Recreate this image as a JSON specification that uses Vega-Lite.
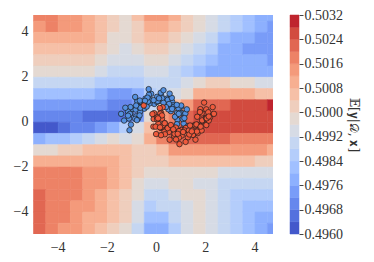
{
"$schema": "https://vega.github.io/schema/vega-lite/v6.json",
"background": "white",
"padding": {"left": 13, "top": 8, "right": 2, "bottom": 4},
"config": {"view": {"stroke": null}, "font": "Liberation Serif"},
"spacing": 16,
"datasets": {
"grid": [
{"x":-5,"y":4.5,"v":0.5018},{"x":-4.5,"y":4.5,"v":0.5018},{"x":-4,"y":4.5,"v":0.5014},{"x":-3.5,"y":4.5,"v":0.5014},{"x":-3,"y":4.5,"v":0.501},{"x":-2.5,"y":4.5,"v":0.5006},{"x":-2,"y":4.5,"v":0.5002},{"x":-1.5,"y":4.5,"v":0.4998},{"x":-1,"y":4.5,"v":0.5006},{"x":-0.5,"y":4.5,"v":0.5014},{"x":0,"y":4.5,"v":0.5014},{"x":0.5,"y":4.5,"v":0.501},{"x":1,"y":4.5,"v":0.5002},{"x":1.5,"y":4.5,"v":0.4998},{"x":2,"y":4.5,"v":0.4994},{"x":2.5,"y":4.5,"v":0.499},{"x":3,"y":4.5,"v":0.4986},{"x":3.5,"y":4.5,"v":0.4982},{"x":4,"y":4.5,"v":0.4978},{"x":4.5,"y":4.5,"v":0.4978},
{"x":-5,"y":4,"v":0.5014},{"x":-4.5,"y":4,"v":0.5018},{"x":-4,"y":4,"v":0.5014},{"x":-3.5,"y":4,"v":0.5014},{"x":-3,"y":4,"v":0.501},{"x":-2.5,"y":4,"v":0.5006},{"x":-2,"y":4,"v":0.5002},{"x":-1.5,"y":4,"v":0.4998},{"x":-1,"y":4,"v":0.5002},{"x":-0.5,"y":4,"v":0.501},{"x":0,"y":4,"v":0.501},{"x":0.5,"y":4,"v":0.5006},{"x":1,"y":4,"v":0.5002},{"x":1.5,"y":4,"v":0.4998},{"x":2,"y":4,"v":0.4994},{"x":2.5,"y":4,"v":0.499},{"x":3,"y":4,"v":0.4986},{"x":3.5,"y":4,"v":0.4982},{"x":4,"y":4,"v":0.4978},{"x":4.5,"y":4,"v":0.4974},
{"x":-5,"y":3.5,"v":0.501},{"x":-4.5,"y":3.5,"v":0.501},{"x":-4,"y":3.5,"v":0.501},{"x":-3.5,"y":3.5,"v":0.501},{"x":-3,"y":3.5,"v":0.501},{"x":-2.5,"y":3.5,"v":0.5006},{"x":-2,"y":3.5,"v":0.4998},{"x":-1.5,"y":3.5,"v":0.4998},{"x":-1,"y":3.5,"v":0.5002},{"x":-0.5,"y":3.5,"v":0.5006},{"x":0,"y":3.5,"v":0.5006},{"x":0.5,"y":3.5,"v":0.5002},{"x":1,"y":3.5,"v":0.4998},{"x":1.5,"y":3.5,"v":0.4994},{"x":2,"y":3.5,"v":0.499},{"x":2.5,"y":3.5,"v":0.4982},{"x":3,"y":3.5,"v":0.4978},{"x":3.5,"y":3.5,"v":0.4978},{"x":4,"y":3.5,"v":0.4974},{"x":4.5,"y":3.5,"v":0.4974},
{"x":-5,"y":3,"v":0.5006},{"x":-4.5,"y":3,"v":0.5006},{"x":-4,"y":3,"v":0.5006},{"x":-3.5,"y":3,"v":0.5006},{"x":-3,"y":3,"v":0.5006},{"x":-2.5,"y":3,"v":0.5002},{"x":-2,"y":3,"v":0.4998},{"x":-1.5,"y":3,"v":0.4994},{"x":-1,"y":3,"v":0.4998},{"x":-0.5,"y":3,"v":0.5002},{"x":0,"y":3,"v":0.5002},{"x":0.5,"y":3,"v":0.4998},{"x":1,"y":3,"v":0.4994},{"x":1.5,"y":3,"v":0.499},{"x":2,"y":3,"v":0.4986},{"x":2.5,"y":3,"v":0.4978},{"x":3,"y":3,"v":0.4978},{"x":3.5,"y":3,"v":0.4974},{"x":4,"y":3,"v":0.4974},{"x":4.5,"y":3,"v":0.4974},
{"x":-5,"y":2.5,"v":0.5002},{"x":-4.5,"y":2.5,"v":0.5002},{"x":-4,"y":2.5,"v":0.5002},{"x":-3.5,"y":2.5,"v":0.5002},{"x":-3,"y":2.5,"v":0.5002},{"x":-2.5,"y":2.5,"v":0.4998},{"x":-2,"y":2.5,"v":0.4994},{"x":-1.5,"y":2.5,"v":0.4994},{"x":-1,"y":2.5,"v":0.4994},{"x":-0.5,"y":2.5,"v":0.4998},{"x":0,"y":2.5,"v":0.4998},{"x":0.5,"y":2.5,"v":0.4994},{"x":1,"y":2.5,"v":0.499},{"x":1.5,"y":2.5,"v":0.4986},{"x":2,"y":2.5,"v":0.4982},{"x":2.5,"y":2.5,"v":0.4978},{"x":3,"y":2.5,"v":0.4978},{"x":3.5,"y":2.5,"v":0.4978},{"x":4,"y":2.5,"v":0.4978},{"x":4.5,"y":2.5,"v":0.4974},
{"x":-5,"y":2,"v":0.4998},{"x":-4.5,"y":2,"v":0.4998},{"x":-4,"y":2,"v":0.4998},{"x":-3.5,"y":2,"v":0.4998},{"x":-3,"y":2,"v":0.4998},{"x":-2.5,"y":2,"v":0.4994},{"x":-2,"y":2,"v":0.499},{"x":-1.5,"y":2,"v":0.499},{"x":-1,"y":2,"v":0.499},{"x":-0.5,"y":2,"v":0.4994},{"x":0,"y":2,"v":0.4994},{"x":0.5,"y":2,"v":0.499},{"x":1,"y":2,"v":0.4986},{"x":1.5,"y":2,"v":0.4982},{"x":2,"y":2,"v":0.4978},{"x":2.5,"y":2,"v":0.4978},{"x":3,"y":2,"v":0.4978},{"x":3.5,"y":2,"v":0.4978},{"x":4,"y":2,"v":0.4978},{"x":4.5,"y":2,"v":0.4978},
{"x":-5,"y":1.5,"v":0.499},{"x":-4.5,"y":1.5,"v":0.499},{"x":-4,"y":1.5,"v":0.499},{"x":-3.5,"y":1.5,"v":0.499},{"x":-3,"y":1.5,"v":0.499},{"x":-2.5,"y":1.5,"v":0.4986},{"x":-2,"y":1.5,"v":0.4986},{"x":-1.5,"y":1.5,"v":0.4986},{"x":-1,"y":1.5,"v":0.4986},{"x":-0.5,"y":1.5,"v":0.499},{"x":0,"y":1.5,"v":0.499},{"x":0.5,"y":1.5,"v":0.499},{"x":1,"y":1.5,"v":0.4994},{"x":1.5,"y":1.5,"v":0.4998},{"x":2,"y":1.5,"v":0.5002},{"x":2.5,"y":1.5,"v":0.5002},{"x":3,"y":1.5,"v":0.4998},{"x":3.5,"y":1.5,"v":0.4998},{"x":4,"y":1.5,"v":0.4994},{"x":4.5,"y":1.5,"v":0.4994},
{"x":-5,"y":1,"v":0.4982},{"x":-4.5,"y":1,"v":0.4982},{"x":-4,"y":1,"v":0.4982},{"x":-3.5,"y":1,"v":0.4982},{"x":-3,"y":1,"v":0.4982},{"x":-2.5,"y":1,"v":0.4978},{"x":-2,"y":1,"v":0.4974},{"x":-1.5,"y":1,"v":0.4974},{"x":-1,"y":1,"v":0.4978},{"x":-0.5,"y":1,"v":0.4986},{"x":0,"y":1,"v":0.499},{"x":0.5,"y":1,"v":0.4994},{"x":1,"y":1,"v":0.4998},{"x":1.5,"y":1,"v":0.501},{"x":2,"y":1,"v":0.501},{"x":2.5,"y":1,"v":0.501},{"x":3,"y":1,"v":0.501},{"x":3.5,"y":1,"v":0.501},{"x":4,"y":1,"v":0.5006},{"x":4.5,"y":1,"v":0.5006},
{"x":-5,"y":0.5,"v":0.4974},{"x":-4.5,"y":0.5,"v":0.4974},{"x":-4,"y":0.5,"v":0.4974},{"x":-3.5,"y":0.5,"v":0.4974},{"x":-3,"y":0.5,"v":0.4974},{"x":-2.5,"y":0.5,"v":0.4974},{"x":-2,"y":0.5,"v":0.497},{"x":-1.5,"y":0.5,"v":0.497},{"x":-1,"y":0.5,"v":0.4974},{"x":-0.5,"y":0.5,"v":0.499},{"x":0,"y":0.5,"v":0.4998},{"x":0.5,"y":0.5,"v":0.5006},{"x":1,"y":0.5,"v":0.5014},{"x":1.5,"y":0.5,"v":0.5022},{"x":2,"y":0.5,"v":0.5022},{"x":2.5,"y":0.5,"v":0.5022},{"x":3,"y":0.5,"v":0.5026},{"x":3.5,"y":0.5,"v":0.5026},{"x":4,"y":0.5,"v":0.5026},{"x":4.5,"y":0.5,"v":0.503},
{"x":-5,"y":0,"v":0.497},{"x":-4.5,"y":0,"v":0.497},{"x":-4,"y":0,"v":0.497},{"x":-3.5,"y":0,"v":0.497},{"x":-3,"y":0,"v":0.4966},{"x":-2.5,"y":0,"v":0.4966},{"x":-2,"y":0,"v":0.4966},{"x":-1.5,"y":0,"v":0.4966},{"x":-1,"y":0,"v":0.4974},{"x":-0.5,"y":0,"v":0.4998},{"x":0,"y":0,"v":0.5014},{"x":0.5,"y":0,"v":0.5018},{"x":1,"y":0,"v":0.5022},{"x":1.5,"y":0,"v":0.5026},{"x":2,"y":0,"v":0.5026},{"x":2.5,"y":0,"v":0.5026},{"x":3,"y":0,"v":0.5026},{"x":3.5,"y":0,"v":0.5026},{"x":4,"y":0,"v":0.5026},{"x":4.5,"y":0,"v":0.5026},
{"x":-5,"y":-0.5,"v":0.4962},{"x":-4.5,"y":-0.5,"v":0.4962},{"x":-4,"y":-0.5,"v":0.4966},{"x":-3.5,"y":-0.5,"v":0.497},{"x":-3,"y":-0.5,"v":0.497},{"x":-2.5,"y":-0.5,"v":0.4974},{"x":-2,"y":-0.5,"v":0.4978},{"x":-1.5,"y":-0.5,"v":0.4986},{"x":-1,"y":-0.5,"v":0.4994},{"x":-0.5,"y":-0.5,"v":0.5006},{"x":0,"y":-0.5,"v":0.5018},{"x":0.5,"y":-0.5,"v":0.5022},{"x":1,"y":-0.5,"v":0.5026},{"x":1.5,"y":-0.5,"v":0.5026},{"x":2,"y":-0.5,"v":0.5026},{"x":2.5,"y":-0.5,"v":0.5026},{"x":3,"y":-0.5,"v":0.5026},{"x":3.5,"y":-0.5,"v":0.5026},{"x":4,"y":-0.5,"v":0.5026},{"x":4.5,"y":-0.5,"v":0.5026},
{"x":-5,"y":-1,"v":0.4978},{"x":-4.5,"y":-1,"v":0.4982},{"x":-4,"y":-1,"v":0.4982},{"x":-3.5,"y":-1,"v":0.4986},{"x":-3,"y":-1,"v":0.499},{"x":-2.5,"y":-1,"v":0.4994},{"x":-2,"y":-1,"v":0.4998},{"x":-1.5,"y":-1,"v":0.4994},{"x":-1,"y":-1,"v":0.4998},{"x":-0.5,"y":-1,"v":0.501},{"x":0,"y":-1,"v":0.5018},{"x":0.5,"y":-1,"v":0.5022},{"x":1,"y":-1,"v":0.5022},{"x":1.5,"y":-1,"v":0.5022},{"x":2,"y":-1,"v":0.5022},{"x":2.5,"y":-1,"v":0.5022},{"x":3,"y":-1,"v":0.5018},{"x":3.5,"y":-1,"v":0.5018},{"x":4,"y":-1,"v":0.5018},{"x":4.5,"y":-1,"v":0.5018},
{"x":-5,"y":-1.5,"v":0.4998},{"x":-4.5,"y":-1.5,"v":0.4998},{"x":-4,"y":-1.5,"v":0.5002},{"x":-3.5,"y":-1.5,"v":0.5002},{"x":-3,"y":-1.5,"v":0.5006},{"x":-2.5,"y":-1.5,"v":0.5006},{"x":-2,"y":-1.5,"v":0.5006},{"x":-1.5,"y":-1.5,"v":0.5006},{"x":-1,"y":-1.5,"v":0.5002},{"x":-0.5,"y":-1.5,"v":0.5002},{"x":0,"y":-1.5,"v":0.5006},{"x":0.5,"y":-1.5,"v":0.5014},{"x":1,"y":-1.5,"v":0.5014},{"x":1.5,"y":-1.5,"v":0.5014},{"x":2,"y":-1.5,"v":0.5014},{"x":2.5,"y":-1.5,"v":0.5014},{"x":3,"y":-1.5,"v":0.5014},{"x":3.5,"y":-1.5,"v":0.5014},{"x":4,"y":-1.5,"v":0.5014},{"x":4.5,"y":-1.5,"v":0.501},
{"x":-5,"y":-2,"v":0.501},{"x":-4.5,"y":-2,"v":0.501},{"x":-4,"y":-2,"v":0.501},{"x":-3.5,"y":-2,"v":0.501},{"x":-3,"y":-2,"v":0.501},{"x":-2.5,"y":-2,"v":0.501},{"x":-2,"y":-2,"v":0.501},{"x":-1.5,"y":-2,"v":0.5006},{"x":-1,"y":-2,"v":0.5002},{"x":-0.5,"y":-2,"v":0.5002},{"x":0,"y":-2,"v":0.5002},{"x":0.5,"y":-2,"v":0.5006},{"x":1,"y":-2,"v":0.5006},{"x":1.5,"y":-2,"v":0.5006},{"x":2,"y":-2,"v":0.5006},{"x":2.5,"y":-2,"v":0.5006},{"x":3,"y":-2,"v":0.5006},{"x":3.5,"y":-2,"v":0.5006},{"x":4,"y":-2,"v":0.5002},{"x":4.5,"y":-2,"v":0.5002},
{"x":-5,"y":-2.5,"v":0.5018},{"x":-4.5,"y":-2.5,"v":0.5018},{"x":-4,"y":-2.5,"v":0.5018},{"x":-3.5,"y":-2.5,"v":0.5018},{"x":-3,"y":-2.5,"v":0.5014},{"x":-2.5,"y":-2.5,"v":0.5014},{"x":-2,"y":-2.5,"v":0.501},{"x":-1.5,"y":-2.5,"v":0.5006},{"x":-1,"y":-2.5,"v":0.5002},{"x":-0.5,"y":-2.5,"v":0.4998},{"x":0,"y":-2.5,"v":0.4998},{"x":0.5,"y":-2.5,"v":0.4998},{"x":1,"y":-2.5,"v":0.4998},{"x":1.5,"y":-2.5,"v":0.4998},{"x":2,"y":-2.5,"v":0.4998},{"x":2.5,"y":-2.5,"v":0.4994},{"x":3,"y":-2.5,"v":0.4994},{"x":3.5,"y":-2.5,"v":0.4994},{"x":4,"y":-2.5,"v":0.4994},{"x":4.5,"y":-2.5,"v":0.4994},
{"x":-5,"y":-3,"v":0.5018},{"x":-4.5,"y":-3,"v":0.5018},{"x":-4,"y":-3,"v":0.5018},{"x":-3.5,"y":-3,"v":0.5018},{"x":-3,"y":-3,"v":0.5014},{"x":-2.5,"y":-3,"v":0.5014},{"x":-2,"y":-3,"v":0.501},{"x":-1.5,"y":-3,"v":0.5006},{"x":-1,"y":-3,"v":0.4998},{"x":-0.5,"y":-3,"v":0.4994},{"x":0,"y":-3,"v":0.4994},{"x":0.5,"y":-3,"v":0.4998},{"x":1,"y":-3,"v":0.4998},{"x":1.5,"y":-3,"v":0.4994},{"x":2,"y":-3,"v":0.4994},{"x":2.5,"y":-3,"v":0.499},{"x":3,"y":-3,"v":0.499},{"x":3.5,"y":-3,"v":0.499},{"x":4,"y":-3,"v":0.499},{"x":4.5,"y":-3,"v":0.499},
{"x":-5,"y":-3.5,"v":0.5022},{"x":-4.5,"y":-3.5,"v":0.5018},{"x":-4,"y":-3.5,"v":0.5018},{"x":-3.5,"y":-3.5,"v":0.5018},{"x":-3,"y":-3.5,"v":0.5014},{"x":-2.5,"y":-3.5,"v":0.501},{"x":-2,"y":-3.5,"v":0.5006},{"x":-1.5,"y":-3.5,"v":0.5002},{"x":-1,"y":-3.5,"v":0.4998},{"x":-0.5,"y":-3.5,"v":0.499},{"x":0,"y":-3.5,"v":0.499},{"x":0.5,"y":-3.5,"v":0.4994},{"x":1,"y":-3.5,"v":0.4998},{"x":1.5,"y":-3.5,"v":0.4998},{"x":2,"y":-3.5,"v":0.4994},{"x":2.5,"y":-3.5,"v":0.499},{"x":3,"y":-3.5,"v":0.4986},{"x":3.5,"y":-3.5,"v":0.4986},{"x":4,"y":-3.5,"v":0.4986},{"x":4.5,"y":-3.5,"v":0.4986},
{"x":-5,"y":-4,"v":0.5022},{"x":-4.5,"y":-4,"v":0.5018},{"x":-4,"y":-4,"v":0.5018},{"x":-3.5,"y":-4,"v":0.5014},{"x":-3,"y":-4,"v":0.5014},{"x":-2.5,"y":-4,"v":0.501},{"x":-2,"y":-4,"v":0.5006},{"x":-1.5,"y":-4,"v":0.5002},{"x":-1,"y":-4,"v":0.4994},{"x":-0.5,"y":-4,"v":0.4986},{"x":0,"y":-4,"v":0.499},{"x":0.5,"y":-4,"v":0.499},{"x":1,"y":-4,"v":0.4994},{"x":1.5,"y":-4,"v":0.4998},{"x":2,"y":-4,"v":0.4994},{"x":2.5,"y":-4,"v":0.499},{"x":3,"y":-4,"v":0.4986},{"x":3.5,"y":-4,"v":0.4982},{"x":4,"y":-4,"v":0.4982},{"x":4.5,"y":-4,"v":0.4982},
{"x":-5,"y":-4.5,"v":0.5022},{"x":-4.5,"y":-4.5,"v":0.5018},{"x":-4,"y":-4.5,"v":0.5018},{"x":-3.5,"y":-4.5,"v":0.5014},{"x":-3,"y":-4.5,"v":0.501},{"x":-2.5,"y":-4.5,"v":0.501},{"x":-2,"y":-4.5,"v":0.5006},{"x":-1.5,"y":-4.5,"v":0.5002},{"x":-1,"y":-4.5,"v":0.4994},{"x":-0.5,"y":-4.5,"v":0.4982},{"x":0,"y":-4.5,"v":0.4982},{"x":0.5,"y":-4.5,"v":0.499},{"x":1,"y":-4.5,"v":0.4994},{"x":1.5,"y":-4.5,"v":0.4998},{"x":2,"y":-4.5,"v":0.4994},{"x":2.5,"y":-4.5,"v":0.499},{"x":3,"y":-4.5,"v":0.4986},{"x":3.5,"y":-4.5,"v":0.4982},{"x":4,"y":-4.5,"v":0.4978},{"x":4.5,"y":-4.5,"v":0.4978},
{"x":-5,"y":-5,"v":0.5022},{"x":-4.5,"y":-5,"v":0.5018},{"x":-4,"y":-5,"v":0.5014},{"x":-3.5,"y":-5,"v":0.5014},{"x":-3,"y":-5,"v":0.501},{"x":-2.5,"y":-5,"v":0.5006},{"x":-2,"y":-5,"v":0.5002},{"x":-1.5,"y":-5,"v":0.4998},{"x":-1,"y":-5,"v":0.499},{"x":-0.5,"y":-5,"v":0.4978},{"x":0,"y":-5,"v":0.4978},{"x":0.5,"y":-5,"v":0.4986},{"x":1,"y":-5,"v":0.4994},{"x":1.5,"y":-5,"v":0.4998},{"x":2,"y":-5,"v":0.4994},{"x":2.5,"y":-5,"v":0.499},{"x":3,"y":-5,"v":0.4986},{"x":3.5,"y":-5,"v":0.4982},{"x":4,"y":-5,"v":0.4978},{"x":4.5,"y":-5,"v":0.4974}
],
"pts": [
{"x":1.12,"y":-0.08,"c":0},{"x":0.8,"y":0.24,"c":0},{"x":1.04,"y":0.39,"c":0},{"x":0.87,"y":0.08,"c":0},{"x":1.19,"y":0.37,"c":0},{"x":0.88,"y":0.37,"c":0},{"x":1.02,"y":0.67,"c":0},{"x":0.6,"y":0.47,"c":0},{"x":0.85,"y":0.39,"c":0},{"x":0.57,"y":0.77,"c":0},{"x":0.66,"y":0.88,"c":0},{"x":0.5,"y":0.55,"c":0},{"x":0.69,"y":0.73,"c":0},{"x":0.16,"y":0.93,"c":0},{"x":0.44,"y":1.03,"c":0},{"x":0.21,"y":1.16,"c":0},{"x":0.47,"y":0.97,"c":0},{"x":-0.07,"y":0.79,"c":0},{"x":0.04,"y":0.88,"c":0},{"x":-0.2,"y":1.24,"c":0},{"x":0.04,"y":1.11,"c":0},{"x":-0.27,"y":0.81,"c":0},{"x":-0.21,"y":0.95,"c":0},{"x":-0.66,"y":0.87,"c":0},{"x":-0.43,"y":1.03,"c":0},{"x":-0.75,"y":0.92,"c":0},{"x":-0.48,"y":0.58,"c":0},{"x":-0.8,"y":0.64,"c":0},{"x":-0.76,"y":0.91,"c":0},{"x":-1.11,"y":0.42,"c":0},{"x":-0.65,"y":0.44,"c":0},{"x":-0.97,"y":0.55,"c":0},{"x":-0.83,"y":0.54,"c":0},{"x":-1.1,"y":0.14,"c":0},{"x":-0.81,"y":0.24,"c":0},{"x":-1.02,"y":-0.13,"c":0},{"x":-0.73,"y":0.14,"c":0},
{"x":1.08,"y":0.12,"c":0},{"x":0.85,"y":-0.11,"c":0},{"x":0.77,"y":0.22,"c":0},{"x":1.15,"y":0.16,"c":0},{"x":0.91,"y":0.59,"c":0},{"x":0.96,"y":0.39,"c":0},{"x":0.7,"y":0.65,"c":0},{"x":0.92,"y":0.35,"c":0},{"x":1.02,"y":0.72,"c":0},{"x":0.65,"y":0.57,"c":0},{"x":0.53,"y":0.79,"c":0},{"x":0.84,"y":0.75,"c":0},{"x":0.64,"y":1.06,"c":0},{"x":0.4,"y":0.65,"c":0},{"x":0.25,"y":1.04,"c":0},{"x":0.07,"y":0.92,"c":0},{"x":0.19,"y":1.29,"c":0},{"x":0.3,"y":0.84,"c":0},{"x":0.12,"y":1.04,"c":0},{"x":-0.33,"y":0.89,"c":0},{"x":-0.29,"y":1.2,"c":0},{"x":-0.1,"y":0.96,"c":0},{"x":-0.35,"y":1.07,"c":0},{"x":-0.38,"y":0.67,"c":0},{"x":-0.66,"y":0.94,"c":0},{"x":-0.67,"y":0.64,"c":0},{"x":-0.45,"y":0.93,"c":0},{"x":-0.64,"y":0.62,"c":0},{"x":-1.04,"y":0.65,"c":0},{"x":-0.67,"y":0.28,"c":0},{"x":-0.81,"y":0.72,"c":0},{"x":-1.04,"y":0.36,"c":0},{"x":-1.14,"y":0.45,"c":0},{"x":-0.85,"y":0.13,"c":0},{"x":-1.06,"y":0.35,"c":0},{"x":-0.78,"y":0.07,"c":0},{"x":-1.14,"y":0.27,"c":0},
{"x":-1.42,"y":0.35,"c":0},{"x":-1.3,"y":0.05,"c":0},{"x":-1.25,"y":0.62,"c":0},{"x":-1.08,"y":-0.38,"c":0},{"x":1.3,"y":-0.2,"c":0},{"x":1.25,"y":0.55,"c":0},{"x":1.05,"y":-0.35,"c":0},{"x":-0.3,"y":1.45,"c":0},{"x":0.3,"y":1.4,"c":0},{"x":0.55,"y":1.25,"c":0},{"x":-0.85,"y":1.1,"c":0},
{"x":0.27,"y":0.64,"c":1},{"x":-0.02,"y":0.19,"c":1},{"x":0.2,"y":0.4,"c":1},{"x":-0.1,"y":0.12,"c":1},{"x":0.17,"y":0.36,"c":1},{"x":0.03,"y":0.21,"c":1},{"x":0.35,"y":-0.06,"c":1},{"x":-0.11,"y":-0.22,"c":1},{"x":0.24,"y":0.13,"c":1},{"x":0.2,"y":-0.28,"c":1},{"x":0.52,"y":-0.46,"c":1},{"x":0.25,"y":-0.22,"c":1},{"x":0.57,"y":-0.21,"c":1},{"x":0.34,"y":-0.45,"c":1},{"x":0.79,"y":-0.43,"c":1},{"x":0.73,"y":-0.63,"c":1},{"x":1.04,"y":-0.37,"c":1},{"x":0.8,"y":-0.26,"c":1},{"x":1.04,"y":-0.62,"c":1},{"x":0.93,"y":-0.71,"c":1},{"x":1.47,"y":-0.51,"c":1},{"x":1.21,"y":-0.28,"c":1},{"x":1.44,"y":-0.35,"c":1},{"x":1.16,"y":-0.39,"c":1},{"x":1.69,"y":-0.51,"c":1},{"x":1.5,"y":-0.59,"c":1},{"x":1.66,"y":-0.16,"c":1},{"x":1.57,"y":-0.15,"c":1},{"x":1.85,"y":-0.39,"c":1},{"x":1.6,"y":-0.17,"c":1},{"x":2.02,"y":0.17,"c":1},{"x":1.88,"y":0.03,"c":1},{"x":2.19,"y":0.19,"c":1},{"x":1.87,"y":0.06,"c":1},{"x":2.04,"y":0.55,"c":1},{"x":1.8,"y":0.56,"c":1},{"x":2.12,"y":0.42,"c":1},
{"x":-0.08,"y":0.38,"c":1},{"x":0.15,"y":0.61,"c":1},{"x":0.24,"y":0.28,"c":1},{"x":-0.15,"y":0.34,"c":1},{"x":0.09,"y":-0.09,"c":1},{"x":0.04,"y":0.11,"c":1},{"x":0.3,"y":-0.15,"c":1},{"x":0.08,"y":0.15,"c":1},{"x":-0.02,"y":-0.22,"c":1},{"x":0.35,"y":-0.07,"c":1},{"x":0.47,"y":-0.29,"c":1},{"x":0.16,"y":-0.25,"c":1},{"x":0.36,"y":-0.56,"c":1},{"x":0.6,"y":-0.15,"c":1},{"x":0.75,"y":-0.54,"c":1},{"x":0.93,"y":-0.42,"c":1},{"x":0.81,"y":-0.79,"c":1},{"x":0.7,"y":-0.34,"c":1},{"x":0.88,"y":-0.54,"c":1},{"x":1.33,"y":-0.39,"c":1},{"x":1.29,"y":-0.7,"c":1},{"x":1.1,"y":-0.46,"c":1},{"x":1.35,"y":-0.57,"c":1},{"x":1.38,"y":-0.17,"c":1},{"x":1.66,"y":-0.44,"c":1},{"x":1.67,"y":-0.14,"c":1},{"x":1.45,"y":-0.43,"c":1},{"x":1.64,"y":-0.12,"c":1},{"x":2.04,"y":-0.15,"c":1},{"x":1.67,"y":0.22,"c":1},{"x":1.81,"y":-0.22,"c":1},{"x":2.04,"y":0.14,"c":1},{"x":2.14,"y":0.05,"c":1},{"x":1.85,"y":0.37,"c":1},{"x":2.06,"y":0.15,"c":1},{"x":1.78,"y":0.43,"c":1},{"x":2.14,"y":0.23,"c":1},
{"x":-0.5,"y":0.72,"c":1},{"x":2.35,"y":0.35,"c":1},{"x":0.95,"y":-1.0,"c":1},{"x":1.6,"y":-0.8,"c":1},{"x":0.2,"y":-0.6,"c":1},{"x":2.3,"y":0.65,"c":1},{"x":1.2,"y":-0.9,"c":1},{"x":0.55,"y":-0.8,"c":1},{"x":0.0,"y":-0.55,"c":1},{"x":1.95,"y":0.85,"c":1}
],
"bar": [
{"lo":0.496,"hi":0.4964,"v":0.4962},{"lo":0.4964,"hi":0.4968,"v":0.4966},{"lo":0.4968,"hi":0.4972,"v":0.497},{"lo":0.4972,"hi":0.4976,"v":0.4974},{"lo":0.4976,"hi":0.498,"v":0.4978},{"lo":0.498,"hi":0.4984,"v":0.4982},{"lo":0.4984,"hi":0.4988,"v":0.4986},{"lo":0.4988,"hi":0.4992,"v":0.499},{"lo":0.4992,"hi":0.4996,"v":0.4994},{"lo":0.4996,"hi":0.5,"v":0.4998},{"lo":0.5,"hi":0.5004,"v":0.5002},{"lo":0.5004,"hi":0.5008,"v":0.5006},{"lo":0.5008,"hi":0.5012,"v":0.501},{"lo":0.5012,"hi":0.5016,"v":0.5014},{"lo":0.5016,"hi":0.502,"v":0.5018},{"lo":0.502,"hi":0.5024,"v":0.5022},{"lo":0.5024,"hi":0.5028,"v":0.5026},{"lo":0.5028,"hi":0.5032,"v":0.503}
]
},
"hconcat": [
{
"width": 240, "height": 219,
"layer": [
{
"data": {"name": "grid"},
"mark": {"type": "rect", "clip": true, "binSpacing": 0, "strokeWidth": 0.6},
"encoding": {
"x": {"field": "x", "type": "quantitative", "bin": {"binned": true, "step": 0.5}, "title": null,
"scale": {"domain": [-5, 4.75], "nice": false, "zero": false},
"axis": {"values": [-4, -2, 0, 2, 4], "format": "d", "ticks": false, "domain": false, "grid": false, "labelFontSize": 14, "labelColor": "#333333", "labelPadding": 6, "labelFont": "Liberation Serif", "labelOverlap": false, "labelFlush": false}},
"y": {"field": "y", "type": "quantitative", "bin": {"binned": true, "step": 0.5}, "title": null,
"scale": {"domain": [-5, 4.75], "nice": false, "zero": false},
"axis": {"values": [-4, -2, 0, 2, 4], "format": "d", "ticks": false, "domain": false, "grid": false, "labelFontSize": 14, "labelColor": "#333333", "labelPadding": 5, "labelFont": "Liberation Serif", "labelOverlap": false, "labelFlush": false}},
"color": {"field": "v", "type": "quantitative", "legend": null,
"scale": {"type": "threshold", "domain": [0.4964,0.4968,0.4972,0.4976,0.498,0.4984,0.4988,0.4992,0.4996,0.5,0.5004,0.5008,0.5012,0.5016,0.502,0.5024,0.5028],
"range": ["#4358cb","#5471de","#6687ed","#799cf8","#8db0fe","#a1c0ff","#b4cdfb","#c5d6f2","#d6dbe5","#e4d9d2","#efcebd","#f6c0a7","#f7af91","#f49a7b","#ed8266","#e16752","#d24b3f","#bf242e"]}},
"stroke": {"field": "v", "type": "quantitative", "legend": null,
"scale": {"type": "threshold", "domain": [0.4964,0.4968,0.4972,0.4976,0.498,0.4984,0.4988,0.4992,0.4996,0.5,0.5004,0.5008,0.5012,0.5016,0.502,0.5024,0.5028],
"range": ["#4358cb","#5471de","#6687ed","#799cf8","#8db0fe","#a1c0ff","#b4cdfb","#c5d6f2","#d6dbe5","#e4d9d2","#efcebd","#f6c0a7","#f7af91","#f49a7b","#ed8266","#e16752","#d24b3f","#bf242e"]}}
}
},
{
"data": {"name": "pts"},
"mark": {"type": "circle", "size": 30, "stroke": "#1a1a1a", "strokeWidth": 0.7, "opacity": 1},
"encoding": {
"x": {"field": "x", "type": "quantitative"},
"y": {"field": "y", "type": "quantitative"},
"fill": {"field": "c", "type": "nominal", "legend": null, "scale": {"domain": [0, 1], "range": ["#5591e0", "#ef5a3c"]}}
}
}
]
},
{
"width": 9, "height": 219,
"data": {"name": "bar"},
"mark": {"type": "rect", "strokeWidth": 0.5},
"encoding": {
"y": {"field": "lo", "type": "quantitative",
"scale": {"domain": [0.496, 0.5032], "nice": false, "zero": false},
"axis": {"orient": "right", "values": [0.496,0.4968,0.4976,0.4984,0.4992,0.5,0.5008,0.5016,0.5024,0.5032], "format": ".4f", "domain": false, "grid": false, "ticks": true, "tickSize": 4, "tickColor": "#444444", "labelFontSize": 14, "labelColor": "#333333", "labelPadding": 1, "labelFont": "Liberation Serif", "labelOverlap": false, "labelFlush": false,
"title": "𝔼[𝐲|𝒟, 𝐱]", "titleFont": "DejaVu Serif", "titleFontSize": 12, "titleFontWeight": "normal", "titleColor": "#333333", "titleAngle": 90, "titlePadding": 4}},
"y2": {"field": "hi"},
"color": {"field": "v", "type": "quantitative", "legend": null,
"scale": {"type": "threshold", "domain": [0.4964,0.4968,0.4972,0.4976,0.498,0.4984,0.4988,0.4992,0.4996,0.5,0.5004,0.5008,0.5012,0.5016,0.502,0.5024,0.5028],
"range": ["#4358cb","#5471de","#6687ed","#799cf8","#8db0fe","#a1c0ff","#b4cdfb","#c5d6f2","#d6dbe5","#e4d9d2","#efcebd","#f6c0a7","#f7af91","#f49a7b","#ed8266","#e16752","#d24b3f","#bf242e"]}},
"stroke": {"field": "v", "type": "quantitative", "legend": null,
"scale": {"type": "threshold", "domain": [0.4964,0.4968,0.4972,0.4976,0.498,0.4984,0.4988,0.4992,0.4996,0.5,0.5004,0.5008,0.5012,0.5016,0.502,0.5024,0.5028],
"range": ["#4358cb","#5471de","#6687ed","#799cf8","#8db0fe","#a1c0ff","#b4cdfb","#c5d6f2","#d6dbe5","#e4d9d2","#efcebd","#f6c0a7","#f7af91","#f49a7b","#ed8266","#e16752","#d24b3f","#bf242e"]}}
}
}
]
}
